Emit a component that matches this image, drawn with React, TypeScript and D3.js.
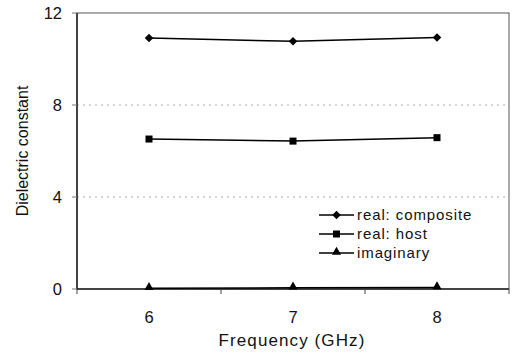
import React from "react";
import * as d3 from "d3";

const categories = ["6", "7", "8"];
const composite = [10.91, 10.77, 10.93];
const host = [6.52, 6.43, 6.58];
const imaginary = [0.03, 0.05, 0.06];
const yTicks = [0, 4, 8, 12];
const seriesNames = ["real: composite", "real: host", "imaginary"];

const W = 513, H = 356;
const M = { left: 77, right: 4, top: 13, bottom: 67 };

export default function App() {
  const x = d3.scaleBand().domain(categories).range([M.left, W - M.right]);
  const y = d3.scaleLinear().domain([0, 12]).range([H - M.bottom, M.top]);
  const cx = (c: string) => (x(c) ?? 0) + x.bandwidth() / 2;
  const line = d3.line<number>().x((_, i) => cx(categories[i])).y((d) => y(d));
  const series = [composite, host, imaginary];
  const font = "Liberation Sans, Arial, sans-serif";
  const x0 = M.left, x1 = W - M.right, yb = y(0), yt = y(12);

  const marker = (k: number, px: number, py: number, key: string) => {
    if (k === 0) return <rect key={key} x={px - 3} y={py - 3} width={6} height={6} transform={`rotate(45 ${px} ${py})`} fill="#000" />;
    if (k === 1) return <rect key={key} x={px - 3.5} y={py - 3.5} width={7} height={7} fill="#000" />;
    return <path key={key} d={d3.symbol(d3.symbolTriangle, 36)() || ""} transform={`translate(${px},${py - 1})`} fill="#000" />;
  };

  const boundaries = [...categories.map((c) => x(c) ?? 0), x1];

  return (
    <svg width={W} height={H} style={{ position: "absolute", left: 0, top: 0, background: "#fff" }}>
      {yTicks.filter((t) => t > 0 && t < 12).map((t) => (
        <line key={t} x1={x0} x2={x1} y1={y(t)} y2={y(t)} stroke="#aaa" strokeWidth={1} strokeDasharray="2,4" />
      ))}
      <rect x={x0} y={yt} width={x1 - x0} height={yb - yt} fill="none" stroke="#555" strokeWidth={1} />
      <line x1={x0} x2={x0} y1={yt} y2={yb} stroke="#222" strokeWidth={1.5} />
      <line x1={x0} x2={x1} y1={yb} y2={yb} stroke="#222" strokeWidth={1.5} />
      {yTicks.map((t) => (
        <g key={t}>
          <line x1={x0 - 5} x2={x0} y1={y(t)} y2={y(t)} stroke="#777" />
          <text x={x0 - 15} y={y(t)} dy="0.35em" textAnchor="end" fontFamily={font} fontSize={16.5} fill="#111">{t}</text>
        </g>
      ))}
      {boundaries.map((b, i) => (
        <line key={i} x1={b} x2={b} y1={yb} y2={yb + 5} stroke="#444" />
      ))}
      {categories.map((c) => (
        <text key={c} x={cx(c)} y={323} textAnchor="middle" fontFamily={font} fontSize={16.5} fill="#111">{c}</text>
      ))}
      <text x={292} y={346} textAnchor="middle" fontFamily={font} fontSize={17} letterSpacing={1.1} fill="#111">Frequency (GHz)</text>
      <text transform={`translate(28,${(yt + yb) / 2}) rotate(-90)`} textAnchor="middle" fontFamily={font} fontSize={16} fill="#111">Dielectric constant</text>
      {series.map((s, k) => (
        <g key={k}>
          <path d={line(s) || ""} fill="none" stroke="#000" strokeWidth={1.5} />
          {s.map((v, i) => marker(k, cx(categories[i]), y(v), `${k}-${i}`))}
        </g>
      ))}
      {seriesNames.map((n, k) => {
        const ly = 215 + k * 19;
        return (
          <g key={n}>
            <line x1={319} x2={354} y1={ly} y2={ly} stroke="#000" strokeWidth={1.5} />
            {marker(k, 336.5, ly, `l${k}`)}
            <text x={357} y={ly} dy="0.35em" fontFamily={font} fontSize={15} letterSpacing={0.9} fill="#111">{n}</text>
          </g>
        );
      })}
    </svg>
  );
}
